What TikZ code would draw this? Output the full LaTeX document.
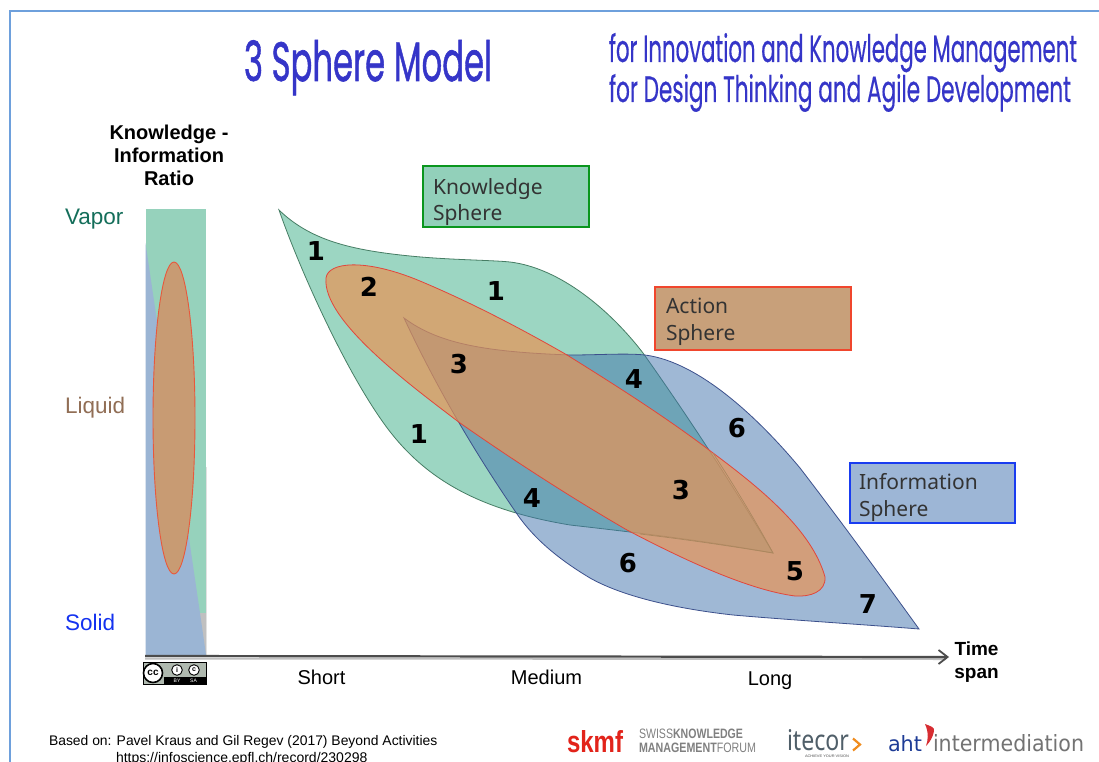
\documentclass[tikz,border=0pt]{standalone}
\usepackage{graphicx}
\usepackage{fontspec}
\setmainfont{Liberation Sans}
\newfontfamily\tah{Noto Sans}
\newfontfamily\fut{Poppins}[FakeBold=1.2]
\newfontfamily\futs{Poppins}[FakeBold=.5]
\newfontfamily\dej{DejaVu Sans}
\usetikzlibrary{arrows.meta}
\definecolor{gLeaf}{RGB}{59,175,135}
\definecolor{bLeaf}{RGB}{65,115,173}
\definecolor{rLeaf}{RGB}{232,148,85}
\definecolor{titleC}{RGB}{53,53,200}
\newcommand{\fit}[3]{\resizebox{#1pt}{#2pt}{#3}}
\tikzset{
  x=1pt,y=-1pt,
  txt/.style={inner sep=0pt,outer sep=0pt,anchor=base west},
  ctr/.style={inner sep=0pt,outer sep=0pt,anchor=base,align=center},
  mid/.style={inner sep=0pt,outer sep=0pt,anchor=center,align=center},
  num/.style={inner sep=0pt,font=\dej\bfseries\fontsize{26}{26}\selectfont,text=black},
  box/.style={line width=2pt,minimum height=0pt,inner sep=0pt},
  boxt/.style={txt,font=\tah\fontsize{21}{21}\selectfont,text=black!80},
  axislab/.style={ctr,font=\fontsize{20}{23}\selectfont},
  state/.style={txt,font=\fontsize{22.5}{22.5}\selectfont},
}
\begin{document}
\begin{tikzpicture}
\useasboundingbox (0,0) rectangle (1099,762);
\fill[white] (0,0) rectangle (1099,762);
% frame
\draw[line width=1.4pt,color={rgb,255:red,110;green,160;blue,220}] (10,762) -- (10,11) -- (1099,11);
% titles
\node[txt,text=titleC,font=\fut] (title) at (244,81) {\fit{248}{41}{3 Sphere Model}};
\node[txt,text=titleC,font=\futs] (sub1) at (609,62) {\fit{468}{29}{for Innovation and Knowledge Management}};
\node[txt,text=titleC,font=\futs] (sub2) at (609,102) {\fit{462}{28}{for Design Thinking and Agile Development}};
% left bar
\fill[color={rgb,255:red,150;green,210;blue,188}] (146,209) rectangle (206,613);
\fill[color={rgb,255:red,192;green,192;blue,192}] (200,613) rectangle (206,655);
\fill[color={rgb,255:red,225;green,225;blue,225}] (205.5,467) rectangle (207,655);
\fill[color={rgb,255:red,155;green,181;blue,212}] (145.5,243) -- (200,613) -- (206,655) -- (145.5,655) -- cycle;
\draw[line width=0.9pt,color={rgb,255:red,232;green,88;blue,60},fill={rgb,255:red,200;green,155;blue,115}] (174,418) ellipse [x radius=21,y radius=156];
% leaves
\filldraw[fill=gLeaf,fill opacity=.5,draw={rgb,255:red,70;green,125;blue,100},line width=.8pt]
  (279,210) .. controls (310,240) and (350,250) .. (410,256)
  .. controls (450,260) and (490,260) .. (510,262)
  .. controls (560,268) and (610,310) .. (643,353)
  .. controls (680,405) and (730,480) .. (773,553)
  .. controls (700,540) and (640,533) .. (570,525)
  .. controls (480,510) and (425,480) .. (385,425)
  .. controls (345,370) and (300,270) .. (279,210) -- cycle;
\filldraw[fill=bLeaf,fill opacity=.5,draw={rgb,255:red,60;green,80;blue,140},line width=.8pt]
  (404,318) .. controls (440,345) and (490,352) .. (570,355)
  .. controls (600,355) and (625,353) .. (645,355)
  .. controls (700,362) and (760,420) .. (800,468)
  .. controls (840,520) and (880,575) .. (919,629)
  .. controls (870,625) and (790,620) .. (733,615)
  .. controls (670,608) and (620,595) .. (590,578)
  .. controls (560,560) and (535,540) .. (517,514)
  .. controls (480,460) and (440,395) .. (404,318) -- cycle;
\filldraw[fill=rLeaf,fill opacity=.7,draw={rgb,255:red,225;green,70;blue,60},line width=.8pt]
  (326,278) .. controls (328,262) and (365,258) .. (420,281)
  .. controls (470,302) and (520,328) .. (567,355)
  .. controls (620,388) and (670,420) .. (713,453)
  .. controls (760,488) and (812,530) .. (825,577)
  .. controls (826,592) and (810,597) .. (795,596)
  .. controls (750,590) and (690,563) .. (627,530)
  .. controls (570,497) and (510,458) .. (460,423)
  .. controls (410,385) and (322,320) .. (326,278) -- cycle;
% faint green edge seen through the action sphere
\draw[color={rgb,255:red,170;green,135;blue,95},line width=.7pt] (713,453) .. controls (735,487) and (755,520) .. (773,553) .. controls (730,546) and (690,540) .. (640,534);
% boxes
\node[box,draw={rgb,255:red,10;green,150;blue,30},fill={rgb,255:red,146;green,208;blue,186},minimum width=166pt,minimum height=61pt,anchor=north west] (kbox) at (422,165) {};
\node[box,draw={rgb,255:red,240;green,70;blue,45},fill={rgb,255:red,200;green,160;blue,122},minimum width=196pt,minimum height=63pt,anchor=north west] (abox) at (653.5,285.5) {};
\node[box,draw={rgb,255:red,25;green,60;blue,240},fill={rgb,255:red,157;green,182;blue,214},minimum width=165pt,minimum height=60pt,anchor=north west] (ibox) at (848.5,461.5) {};
\node[boxt] (k1) at (433,194) {Knowledge};
\node[boxt] (k2) at (433,220.5) {Sphere};
\node[boxt] (a1) at (666,313) {Action};
\node[boxt] (a2) at (666,340) {Sphere};
\node[boxt] (i1) at (859,489) {Information};
\node[boxt] (i2) at (859,516) {Sphere};
% numbers
\node[num] (n1) at (316,251) {1};
\node[num] (n2) at (369,287) {2};
\node[num] (n3) at (496,291) {1};
\node[num] (n4) at (459,364) {3};
\node[num] (n5) at (419,434) {1};
\node[num] (n6) at (634,379) {4};
\node[num] (n7) at (737,428) {6};
\node[num] (n8) at (532,498) {4};
\node[num] (n9) at (681,490) {3};
\node[num] (n10) at (628,563) {6};
\node[num] (n11) at (795,571) {5};
\node[num] (n12) at (868,604) {7};
% axis labels
\node[mid,font=\bfseries\fontsize{20}{23}\selectfont] (ylab) at (169,155) {Knowledge -\\Information\\Ratio};
\node[state,text={rgb,255:red,20;green,110;blue,90}] (vapor) at (65,224) {Vapor};
\node[state,text={rgb,255:red,145;green,110;blue,85}] (liquid) at (65,413) {Liquid};
\node[state,text={rgb,255:red,20;green,50;blue,240}] (solid) at (65,630) {Solid};
% axis
\coordinate (ax0) at (145,656);
\coordinate (ax1) at (949,657);
\draw[line width=2pt,black!25] (145,658.5) -- (946,659);
\draw[line width=2.2pt,black!70,-{Straight Barb[length=9pt,width=14pt,line width=1.8pt]}] (ax0) -- (ax1);
\node[axislab] (short) at (321.5,684) {Short};
\node[axislab] (medium) at (546.5,684) {Medium};
\node[axislab] (long) at (770,685) {Long};
\node[mid,font=\bfseries\fontsize{19}{23}\selectfont] (time) at (976.5,662) {Time\\span};
% CC badge
\draw[black,line width=.8pt,fill={rgb,255:red,175;green,185;blue,175}] (143.5,662.5) rectangle (206.5,684);
\fill[black] (164,677) rectangle (207,684.4);
\draw[black,line width=1.6pt,fill=white] (153,673) circle (9.5);
\node[inner sep=0pt,font=\bfseries\fontsize{10}{10}\selectfont] (cc) at (153,672.5) {cc};
\draw[black,line width=.9pt,fill=white] (177,670) circle (5.3);
\draw[black,line width=.9pt,fill=white] (194,670) circle (5.3);
\node[inner sep=0pt,font=\bfseries\fontsize{7}{7}\selectfont] (byi) at (177,670) {i};
\node[inner sep=0pt,font=\bfseries\fontsize{7}{7}\selectfont] (sai) at (194,670) {c};
\node[inner sep=0pt,text=white,font=\fontsize{5}{5}\selectfont] (by) at (177,681) {BY};
\node[inner sep=0pt,text=white,font=\fontsize{5}{5}\selectfont] (sa) at (193.5,681) {SA};
% source
\node[txt,font=\fontsize{13.9}{14}\selectfont] (src1) at (49,745.5) {Based on: Pavel Kraus and Gil Regev (2017) Beyond Activities};
\node[txt,font=\fontsize{14}{14}\selectfont] (src2) at (116,762) {https://infoscience.epfl.ch/record/230298};
% logos
\node[txt,text={rgb,255:red,226;green,35;blue,26}] (skmf) at (567,752) {\fit{56}{22}{\bfseries skmf}};
\node[txt,text=black!50] (swiss) at (639,738.5) {\fit{104}{9.5}{SWISS\textbf{KNOWLEDGE}}};
\node[txt,text=black!50] (manag) at (639,752) {\fit{117}{9.5}{\textbf{MANAGEMENT}FORUM}};
\node[txt,text={rgb,255:red,80;green,95;blue,105}] (itecor) at (787,750) {\fit{62}{21}{\tah itecor}};
\draw[line width=2.2pt,color={rgb,255:red,240;green,140;blue,30}] (853,738.5) -- (860,744.5) -- (853,750.5);
\node[txt,text=black!70] (ach) at (805,757.5) {\fit{44}{2.5}{ACHIEVE YOUR VISION}};
\node[txt,text={rgb,255:red,30;green,60;blue,150}] (aht) at (888,751) {\fit{34}{16}{\dej aht}};
\fill[color={rgb,255:red,215;green,45;blue,50}] (925,724) .. controls (930,726) and (935,727) .. (934,731) .. controls (933,737) and (930,742) .. (926,746) .. controls (928,740) and (929,733) .. (925,724) -- cycle;
\node[txt,text=black!55] (inter) at (933,751) {\fit{151}{17}{\dej intermediation}};
\end{tikzpicture}
\end{document}
